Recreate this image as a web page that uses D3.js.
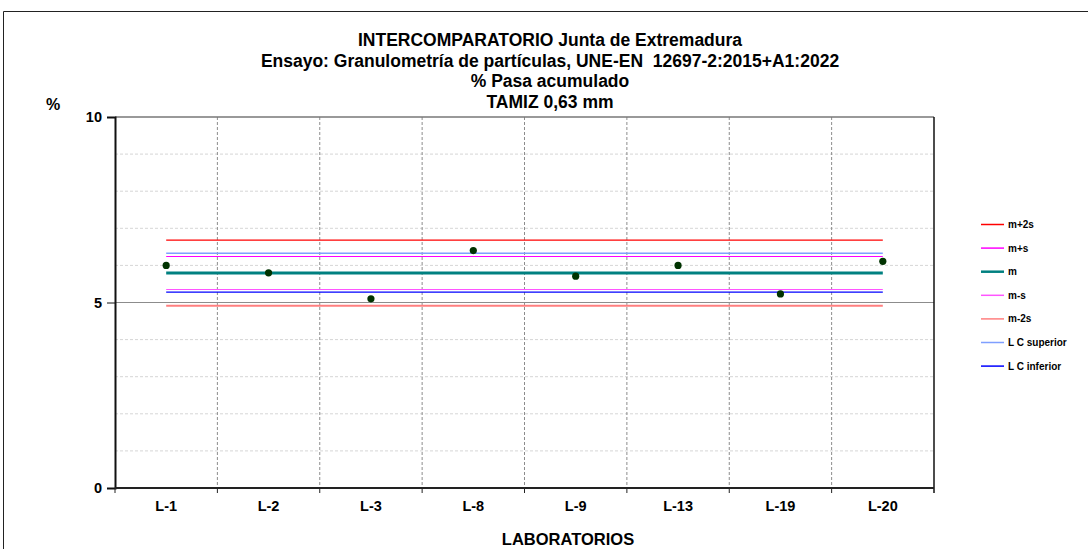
<!DOCTYPE html>
<html>
<head>
<meta charset="utf-8">
<script src="https://cdn.jsdelivr.net/npm/d3@7"></script>
<style>
  body { margin: 0; background: #fff; }
  text { font-family: "Liberation Sans", Arial, sans-serif; font-weight: bold; white-space: pre; }
</style>
</head>
<body>
<svg width="1088" height="549"></svg>
<script>
var labs = ["L-1", "L-2", "L-3", "L-8", "L-9", "L-13", "L-19", "L-20"];
var results = [6.0, 5.8, 5.1, 6.4, 5.71, 6.0, 5.23, 6.11];

var refNames = ["m+2s", "m+s", "m", "m-s", "m-2s", "L C superior", "L C inferior"];
var refValues = [6.68, 6.24, 5.795, 5.35, 4.91, 6.33, 5.28];
var refColors = ["#ff0000", "#ff00ff", "#008080", "#ff55ff", "#ff7f7f", "#7f9fff", "#0000ff"];
var refWidths = [1.2, 1.2, 3, 1.2, 2, 1.5, 1.2];

var titles = ["INTERCOMPARATORIO Junta de Extremadura",
  "Ensayo: Granulometría de partículas, UNE-EN  12697-2:2015+A1:2022",
  "% Pasa acumulado",
  "TAMIZ 0,63 mm"];
var yTicks = [0, 5, 10];

var svg = d3.select("svg"),
    pLeft = 115, pRight = 934, pTop = 117, pBottom = 488;

// outer frame
svg.append("path").attr("d", "M3.5,560 V11.5 H1100")
  .attr("fill", "none").attr("stroke", "#222").attr("stroke-width", 1);

var x = d3.scaleBand().domain(labs).range([pLeft, pRight]);
var y = d3.scaleLinear().domain([0, 10]).range([pBottom, pTop]);

// horizontal grid
var g = svg.append("g");
g.selectAll(".hg").data(d3.range(1, 10))
  .enter().append("line")
    .attr("x1", pLeft).attr("x2", pRight)
    .attr("y1", function(d) { return y(d); }).attr("y2", function(d) { return y(d); })
    .attr("stroke", function(d) { return d == 5 ? "#8c8c8c" : "#d6d6d6"; })
    .attr("stroke-width", function(d) { return d == 5 ? 1.2 : 1; })
    .attr("stroke-dasharray", function(d) { return d == 5 ? null : "3,2"; });

// vertical grid at band boundaries
g.selectAll(".vg").data(labs.slice(1))
  .enter().append("line")
    .attr("x1", function(d) { return x(d); }).attr("x2", function(d) { return x(d); })
    .attr("y1", pTop).attr("y2", pBottom)
    .attr("stroke", "#8c8c8c").attr("stroke-dasharray", "3,2");

// plot borders top / right
svg.append("line").attr("x1", pLeft).attr("x2", pRight).attr("y1", pTop).attr("y2", pTop)
  .attr("stroke", "#777").attr("stroke-width", 1.5);
svg.append("line").attr("x1", pRight).attr("x2", pRight).attr("y1", pTop).attr("y2", pBottom + 5)
  .attr("stroke", "#111").attr("stroke-width", 1.5);

// reference lines
var x0 = x(labs[0]) + x.bandwidth() / 2,
    x1 = x(labs[labs.length - 1]) + x.bandwidth() / 2;
var order = [4, 3, 6, 1, 5, 0, 2];
svg.selectAll(".ref").data(order)
  .enter().append("line")
    .attr("x1", x0).attr("x2", x1)
    .attr("y1", function(i) { return y(refValues[i]); })
    .attr("y2", function(i) { return y(refValues[i]); })
    .attr("stroke", function(i) { return refColors[i]; })
    .attr("stroke-width", function(i) { return refWidths[i]; });

// points
svg.selectAll(".pt").data(results)
  .enter().append("circle")
    .attr("cx", function(d, i) { return x(labs[i]) + x.bandwidth() / 2; })
    .attr("cy", function(d) { return y(d); })
    .attr("r", 3.6)
    .attr("fill", "#003300");

// axes
var yAxis = svg.append("g").attr("transform", "translate(" + pLeft + ",0)")
  .call(d3.axisLeft(y).tickValues(yTicks).tickSize(8).tickPadding(5));
yAxis.select(".domain").attr("stroke", "#111").attr("stroke-width", 2);
yAxis.selectAll("line").attr("stroke", "#111");
yAxis.selectAll("text").attr("font-size", 14.5).attr("fill", "#000");

var xAxis = svg.append("g").attr("transform", "translate(0," + pBottom + ")")
  .call(d3.axisBottom(x).tickSize(0).tickPadding(13));
xAxis.select(".domain").remove();
xAxis.selectAll("text").attr("font-size", 14.5).attr("fill", "#000");
svg.append("line").attr("x1", pLeft).attr("x2", pRight).attr("y1", pBottom).attr("y2", pBottom)
  .attr("stroke", "#222").attr("stroke-width", 2);
svg.selectAll(".xt").data(labs)
  .enter().append("line")
    .attr("x1", function(d) { return x(d); }).attr("x2", function(d) { return x(d); })
    .attr("y1", pBottom).attr("y2", pBottom + 5)
    .attr("stroke", "#222");

// titles
svg.selectAll(".title").data(titles)
  .enter().append("text")
    .attr("x", 550)
    .attr("y", function(d, i) { return 46 + i * 20.5; })
    .attr("text-anchor", "middle")
    .attr("font-size", 17.5)
    .text(function(d) { return d; });

svg.append("text").attr("x", 53).attr("y", 110).attr("text-anchor", "middle")
  .attr("font-size", 16).text("%");
svg.append("text").attr("x", 568).attr("y", 545).attr("text-anchor", "middle")
  .attr("font-size", 16.5).text("LABORATORIOS");

// legend
var leg = svg.selectAll(".leg").data(refNames)
  .enter().append("g")
    .attr("transform", function(d, i) { return "translate(981," + (224.5 + i * 23.6) + ")"; });
leg.append("line").attr("x1", 0).attr("x2", 23).attr("y1", 0).attr("y2", 0)
  .attr("stroke", function(d, i) { return refColors[i]; })
  .attr("stroke-width", function(d, i) { return i == 2 ? 2.5 : 1.5; });
leg.append("text").attr("x", 27).attr("y", 3.5).attr("font-size", 10)
  .text(function(d) { return d; });
</script>
</body>
</html>
